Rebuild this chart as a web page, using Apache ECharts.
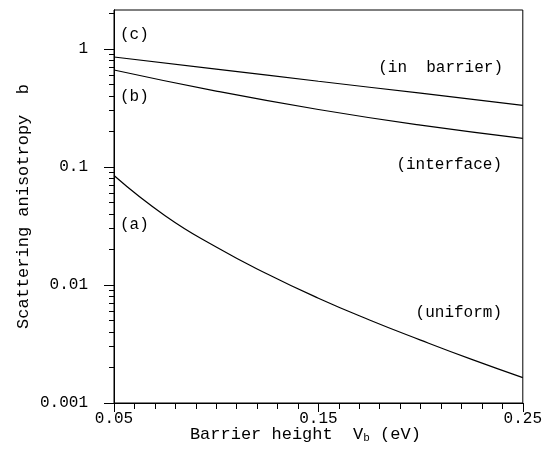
<!DOCTYPE html>
<html>
<head>
<meta charset="utf-8">
<script src="https://cdn.jsdelivr.net/npm/echarts@6/dist/echarts.min.js"></script>
<style>
  html, body { margin: 0; padding: 0; background: #fff; }
  #chart { width: 545px; height: 458px; }
</style>
</head>
<body>
<div id="chart"></div>
<script>
// barrier height (eV)
const xUniform = [0.05, 0.075, 0.1, 0.125, 0.15, 0.175, 0.2, 0.225, 0.25];
const bUniform = [0.0847, 0.0387, 0.0210, 0.01239, 0.00773, 0.00505, 0.00341, 0.00234, 0.00164];
const xLines = [0.05, 0.1, 0.15, 0.2, 0.25];
const bInterface = [0.664, 0.440, 0.307, 0.226, 0.175];
const bBarrier = [0.855, 0.676, 0.533, 0.422, 0.333];

// axis ticks
const xMajor = [0.05, 0.15, 0.25];
const xMinor = [];
for (let i = 5; i <= 25; i++) xMinor.push(i / 100);
const yMajor = [0.001, 0.01, 0.1, 1];
const yMinor = [];
[0.001, 0.01, 0.1].forEach(d => { for (let k = 2; k <= 9; k++) yMinor.push(+(d * k).toPrecision(3)); });
yMinor.push(2);

const font = 'Liberation Mono';
const pair = (xs, ys) => xs.map((x, i) => [x, ys[i]]);

let myChart = echarts.init(document.getElementById('chart'));
const lineStyle = { color: '#000', width: 1.2 };
const xBase = {
  type: 'value', min: 0.05, max: 0.25, position: 'bottom',
  axisLine: { show: true, lineStyle: { color: '#000', width: 1 } },
  splitLine: { show: false }
};
const yBase = {
  type: 'log', min: 0.001, max: 2.14, position: 'left',
  axisLine: { show: true, lineStyle: { color: '#000', width: 1 } },
  splitLine: { show: false }
};

let option = {
  animation: false,
  grid: { left: 114, right: 16, top: 10, bottom: 55, show: true, borderColor: '#000', borderWidth: 1 },
  xAxis: [
    Object.assign({}, xBase, {
      name: '{a|Barrier height  V}{s|b}{a| (eV)}',
      nameLocation: 'middle', nameGap: 22, nameMoveOverlap: false,
      nameTextStyle: {
        padding: [0, 26, 0, 0],
        rich: {
          a: { fontFamily: font, fontSize: 17, color: '#000' },
          s: { fontFamily: font, fontSize: 11, color: '#000', padding: [8, 0, 0, 0] }
        }
      },
      axisTick: { show: true, length: 9, customValues: xMajor, lineStyle: { color: '#000' } },
      axisLabel: { customValues: xMajor, fontFamily: font, fontSize: 16, color: '#000', margin: 8,
        formatter: v => v.toFixed(2) }
    }),
    Object.assign({}, xBase, {
      axisTick: { show: true, length: 6, customValues: xMinor, lineStyle: { color: '#000' } },
      axisLabel: { show: false }
    })
  ],
  yAxis: [
    Object.assign({}, yBase, {
      name: 'Scattering anisotropy  b',
      nameLocation: 'middle', nameGap: 82, nameMoveOverlap: false,
      nameTextStyle: { fontFamily: font, fontSize: 17, color: '#000' },
      axisTick: { show: true, length: 10, customValues: yMajor, lineStyle: { color: '#000' } },
      axisLabel: { customValues: yMajor, fontFamily: font, fontSize: 16, color: '#000', margin: 26,
        formatter: v => String(v) }
    }),
    Object.assign({}, yBase, {
      axisTick: { show: true, length: 5, customValues: yMinor, lineStyle: { color: '#000' } },
      axisLabel: { show: false }
    })
  ],
  series: [
    { name: 'uniform', type: 'line', smooth: true, symbol: 'none', lineStyle, data: pair(xUniform, bUniform) },
    { name: 'interface', type: 'line', smooth: true, symbol: 'none', lineStyle, data: pair(xLines, bInterface) },
    { name: 'in barrier', type: 'line', smooth: true, symbol: 'none', lineStyle, data: pair(xLines, bBarrier) }
  ],
  graphic: [
    { type: 'text', left: 120, top: 27, style: { text: '(c)', font: '16px ' + font, fill: '#000' } },
    { type: 'text', left: 120, top: 89, style: { text: '(b)', font: '16px ' + font, fill: '#000' } },
    { type: 'text', left: 120, top: 217, style: { text: '(a)', font: '16px ' + font, fill: '#000' } },
    { type: 'text', right: 42, top: 60, style: { text: '(in  barrier)', font: '16px ' + font, fill: '#000' } },
    { type: 'text', right: 43, top: 157, style: { text: '(interface)', font: '16px ' + font, fill: '#000' } },
    { type: 'text', right: 43, top: 305, style: { text: '(uniform)', font: '16px ' + font, fill: '#000' } }
  ]
};
myChart.setOption(option);
</script>
</body>
</html>
